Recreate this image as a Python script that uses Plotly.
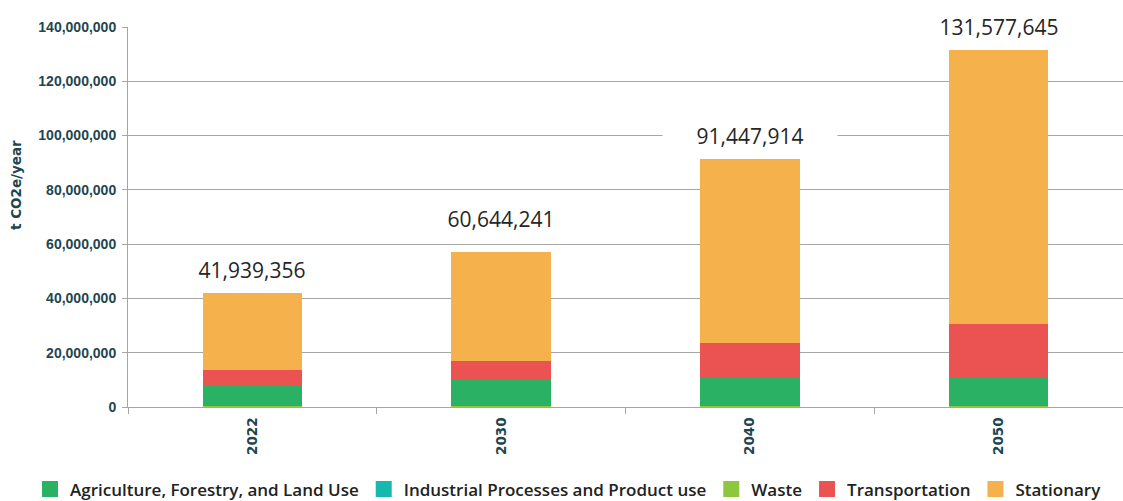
import plotly.graph_objects as go

years = ["2022", "2030", "2040", "2050"]
waste = [350000, 350000, 350000, 350000]
industrial = [0, 0, 0, 0]
agriculture = [7450000, 9660000, 10400000, 10400000]
transportation = [5750000, 6890000, 12800000, 19800000]
stationary = [28340000, 40150000, 67850000, 100980000]
totals = [41939356, 60644241, 91447914, 131577645]
y_ticks = [0, 20000000, 40000000, 60000000, 80000000, 100000000, 120000000, 140000000]

colors = {
    "Agriculture, Forestry, and Land Use": "#2bb163",
    "Industrial Processes and Product use": "#17b9ae",
    "Waste": "#8dc63f",
    "Transportation": "#eb5353",
    "Stationary": "#f5b14c",
}

W, H = 1123, 501
L, R, T, B = 128, 0, 27, 94
PW, PH = W - L - R, H - T - B

fig = go.Figure()

stack = [
    ("Waste", waste),
    ("Industrial Processes and Product use", industrial),
    ("Agriculture, Forestry, and Land Use", agriculture),
    ("Transportation", transportation),
    ("Stationary", stationary),
]
for name, vals in stack:
    fig.add_trace(go.Bar(
        x=years, y=vals, name=name, marker=dict(color=colors[name], line=dict(width=0)),
        width=0.4, showlegend=False, legendgroup=name,
    ))

legend_order = ["Agriculture, Forestry, and Land Use", "Industrial Processes and Product use",
                "Waste", "Transportation", "Stationary"]
for name in legend_order:
    fig.add_trace(go.Scatter(
        x=[None], y=[None], mode="markers", name=name, legendgroup=name,
        marker=dict(symbol="square", size=16, color=colors[name], line=dict(width=0)),
        showlegend=True, hoverinfo="skip",
    ))

for i, tot in enumerate(totals):
    fig.add_annotation(
        x=i, y=tot, xref="x", yref="y", text=f"{tot:,}", showarrow=False,
        yanchor="middle", yshift=23, width=172, bgcolor="white",
        font=dict(family="Open Sans", size=21, color="#262626"),
    )

fig.add_annotation(
    xref="paper", yref="paper", x=(16 - L) / PW, y=(H - B - 185) / PH, text="t CO2e/year",
    showarrow=False, textangle=-90, xanchor="center", yanchor="middle",
    font=dict(family="DejaVu Sans", size=13.5, color="#1d4650", weight="bold"),
)

fig.update_layout(
    width=W, height=H,
    margin=dict(l=L, r=R, t=T, b=B, autoexpand=False),
    paper_bgcolor="white", plot_bgcolor="white",
    barmode="stack",
    showlegend=True,
    legend=dict(
        orientation="h", xref="paper", yref="paper",
        x=(30 - L) / PW, y=(H - B - 489.5) / PH, xanchor="left", yanchor="middle",
        font=dict(family="Open Sans", size=17, color="#222222", weight=600),
        bgcolor="rgba(0,0,0,0)",
    ),
    xaxis=dict(
        type="category", categoryorder="array", categoryarray=years,
        range=[-0.5, len(years) - 0.5], autorange=False,
        tickangle=-90, showline=True, linecolor="#a6a6a6", linewidth=1,
        ticks="outside", tickson="boundaries", ticklen=6, tickcolor="#a6a6a6",
        ticklabelstandoff=4, showgrid=False,
        tickfont=dict(family="DejaVu Sans", size=13.5, color="#1d4650", weight="bold"),
    ),
    yaxis=dict(
        range=[0, 140000000], autorange=False, tickvals=y_ticks, tickformat=",d",
        showgrid=True, gridcolor="#a6a6a6", gridwidth=1,
        showline=True, linecolor="#a6a6a6", linewidth=1,
        ticks="outside", ticklen=5, tickcolor="#a6a6a6", ticklabelstandoff=3,
        zeroline=False,
        tickfont=dict(family="Liberation Sans", size=14, color="#1d4650", weight="bold"),
    ),
)

fig.write_html("out.html")
